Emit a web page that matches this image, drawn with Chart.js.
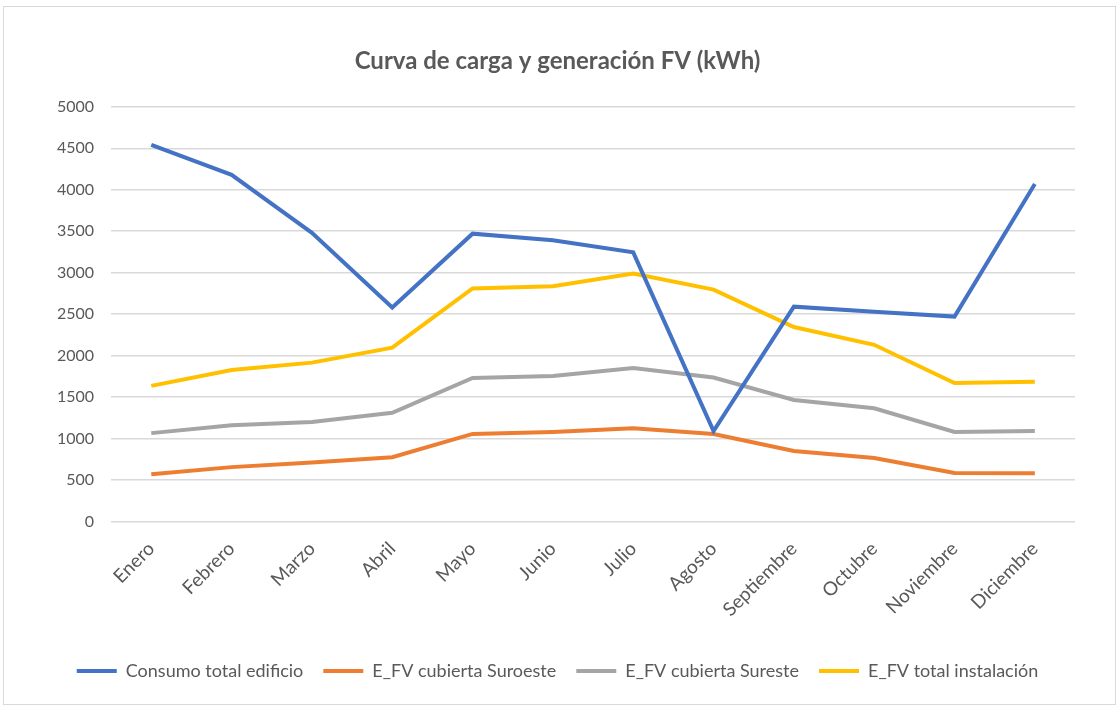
<!DOCTYPE html>
<html>
<head>
<meta charset="utf-8">
<script src="https://cdn.jsdelivr.net/npm/chart.js@4/dist/chart.umd.min.js"></script>
<style>
  html, body { margin: 0; padding: 0; background: #fff; }
  #frame {
    position: absolute; left: 3px; top: 6px; width: 1113px; height: 699px;
    border: 1px solid #d9d9d9; box-sizing: border-box;
  }
  #wrap { position: absolute; left: 0; top: 0; width: 1120px; height: 709px; }
</style>
</head>
<body>
<div id="frame"></div>
<div id="wrap"><canvas id="chart"></canvas></div>
<script>
var months = ["Enero", "Febrero", "Marzo", "Abril", "Mayo", "Junio", "Julio",
              "Agosto", "Septiembre", "Octubre", "Noviembre", "Diciembre"];

var consumoTotal   = [4540, 4180, 3480, 2580, 3470, 3390, 3245, 1090, 2590, 2530, 2470, 4070];
var fvSuroeste     = [570, 655, 710, 775, 1055, 1080, 1125, 1055, 850, 765, 585, 580];
var fvSureste      = [1065, 1160, 1200, 1310, 1730, 1755, 1850, 1735, 1465, 1365, 1080, 1090];
var fvTotal        = [1635, 1825, 1915, 2095, 2810, 2835, 2990, 2795, 2345, 2130, 1670, 1685];

var yTicks = [0, 500, 1000, 1500, 2000, 2500, 3000, 3500, 4000, 4500, 5000];

var textColor = "#595959";
var fontFamily = "Lato, 'Open Sans', sans-serif";

function series(label, values, color) {
    return {
        label: label,
        data: values,
        borderColor: color,
        backgroundColor: color,
        borderWidth: 4,
        pointRadius: 0,
        pointHoverRadius: 0,
        tension: 0,
        fill: false
    };
}

var ctx = document.getElementById("chart").getContext("2d");
new Chart(ctx, {
    type: "line",
    data: {
        labels: months,
        datasets: [
            series("Consumo total edificio", consumoTotal, "#4472C4"),
            series("E_FV cubierta Suroeste", fvSuroeste, "#ED7D31"),
            series("E_FV cubierta Sureste", fvSureste, "#A5A5A5"),
            series("E_FV total instalación", fvTotal, "#FFC000")
        ]
    },
    options: {
        responsive: true,
        maintainAspectRatio: false,
        animation: false,
        layout: { padding: { left: 40, right: 45, top: 0, bottom: 19 } },
        plugins: {
            title: {
                display: true,
                text: "Curva de carga y generación FV (kWh)",
                color: textColor,
                font: { family: fontFamily, size: 24, weight: "bold" },
                padding: { top: 47, bottom: 31 }
            },
            legend: {
                position: "bottom",
                labels: {
                    color: textColor,
                    font: { family: fontFamily, size: 18 },
                    usePointStyle: true,
                    pointStyle: "line",
                    pointStyleWidth: 40,
                    padding: 20
                }
            },
            tooltip: { enabled: false }
        },
        scales: {
            x: {
                offset: true,
                // extra room between the month labels and the legend
                afterFit: function (scale) { scale.height += 13; },
                grid: { display: false },
                border: { display: false },
                ticks: {
                    color: textColor,
                    font: { family: fontFamily, size: 19 },
                    minRotation: 45,
                    maxRotation: 45,
                    padding: 8
                }
            },
            y: {
                min: 0,
                max: 5000,
                afterBuildTicks: function (axis) {
                    axis.ticks = yTicks.map(function (v) { return { value: v }; });
                },
                grid: { color: "#d9d9d9", lineWidth: 1.5, drawTicks: false },
                border: { display: false },
                ticks: {
                    color: textColor,
                    font: { family: fontFamily, size: 16 },
                    padding: 17,
                    callback: function (v) { return String(v); }
                }
            }
        }
    }
});
</script>
</body>
</html>
